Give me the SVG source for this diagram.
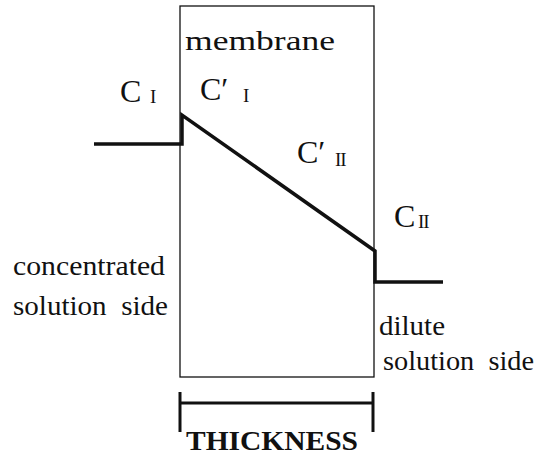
<svg xmlns="http://www.w3.org/2000/svg" width="539" height="458" viewBox="0 0 539 458">
<style>
.lbl{font-size:28px}
.c{font-size:32px}
.sub{font-size:19px}
.thin{fill:none;stroke:#111;stroke-width:1.3}
.thick{fill:none;stroke:#111;stroke-width:3.5;stroke-linejoin:miter}
</style>
<rect width="539" height="458" fill="#fff"/>
<g font-family="Liberation Serif, DejaVu Serif, serif" fill="#111">
<g id="membrane">
<rect class="thin" x="180" y="6" width="194" height="371"/>
<text class="lbl" x="185" y="50" textLength="150" lengthAdjust="spacingAndGlyphs">membrane</text>
</g>
<g id="connectors">
<polyline class="thick" points="94,144 182,144 182,115 375,251 375,282 443,282"/>
</g>
<g id="label-CI">
<text class="c" x="120" y="102">C</text><text class="sub" x="150" y="103">I</text>
</g>
<g id="label-CpI">
<text class="c" x="200" y="100">C′</text><text class="sub" x="243" y="102">I</text>
</g>
<g id="label-CpII">
<text class="c" x="297" y="163">C′</text><text class="sub" x="335" y="166" letter-spacing="-1">II</text>
</g>
<g id="label-CII">
<text class="c" x="394" y="227">C</text><text class="sub" x="418" y="228" letter-spacing="-1">II</text>
</g>
<g id="concentrated-side">
<text class="lbl" x="13" y="275" textLength="152" lengthAdjust="spacingAndGlyphs">concentrated</text>
<text class="lbl" x="13" y="315" textLength="155" lengthAdjust="spacingAndGlyphs" xml:space="preserve">solution  side</text>
</g>
<g id="dilute-side">
<text class="lbl" x="379" y="335" textLength="66" lengthAdjust="spacingAndGlyphs">dilute</text>
<text class="lbl" x="383" y="370" textLength="151" lengthAdjust="spacingAndGlyphs" xml:space="preserve">solution  side</text>
</g>
<g id="thickness">
<line class="thick" x1="180" y1="392" x2="180" y2="432" style="stroke-width:3"/>
<line class="thick" x1="373" y1="392" x2="373" y2="432" style="stroke-width:3"/>
<line class="thick" x1="180" y1="403" x2="373" y2="403" style="stroke-width:3"/>
<text x="186" y="450" font-size="27" font-weight="bold" textLength="172" lengthAdjust="spacingAndGlyphs">THICKNESS</text>
</g>
</g>
</svg>
